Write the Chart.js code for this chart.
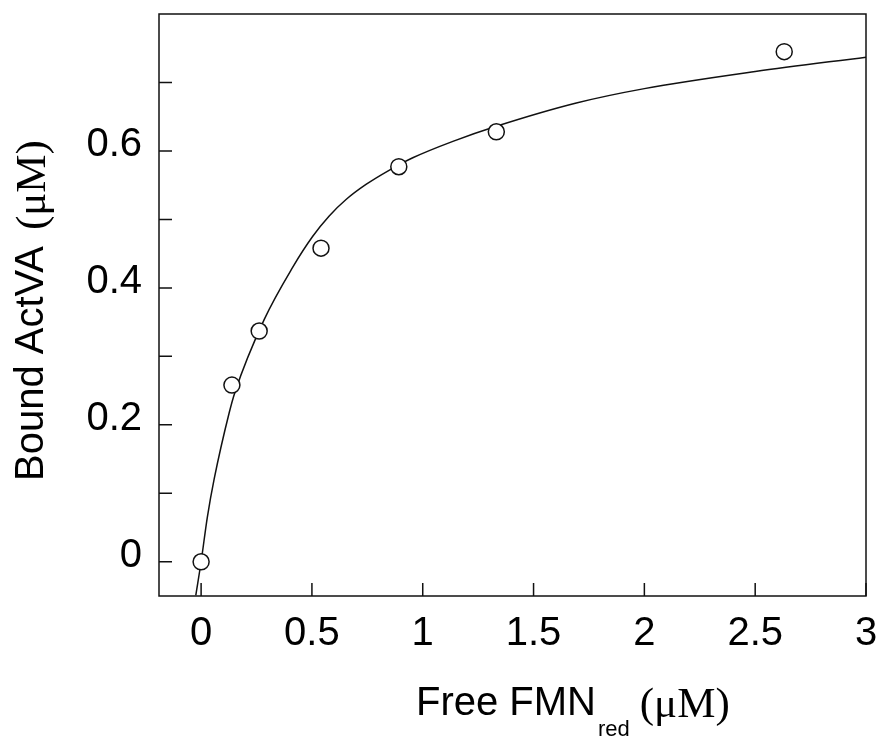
<!DOCTYPE html>
<html>
<head>
<meta charset="utf-8">
<script src="https://cdn.jsdelivr.net/npm/chart.js@4.4.1/dist/chart.umd.min.js"></script>
<style>
  html, body { margin: 0; padding: 0; background: #fff; }
  #wrap { width: 880px; height: 738px; position: relative; }
</style>
</head>
<body>
<div id="wrap"><canvas id="bindChart"></canvas></div>
<script>
// measured points
const freeFmn = [0, 0.139, 0.262, 0.541, 0.892, 1.332, 2.631];
const boundActVA = [0, 0.258, 0.337, 0.458, 0.577, 0.628, 0.745];

// fitted curve
const fitX = [-0.024, 0, 0.028, 0.059, 0.127, 0.152, 0.285, 0.413, 0.503, 0.578, 0.654, 0.744, 0.850, 0.955, 1.136, 1.332, 1.693, 2.0, 2.5, 3.0];
const fitY = [-0.049, 0, 0.065, 0.121, 0.218, 0.247, 0.354, 0.430, 0.475, 0.505, 0.529, 0.551, 0.572, 0.590, 0.614, 0.636, 0.670, 0.691, 0.716, 0.737];

// axis ticks
const xTicks = [0, 0.5, 1, 1.5, 2, 2.5, 3];
const yTicks = [0, 0.1, 0.2, 0.3, 0.4, 0.5, 0.6, 0.7];
const yLabels = [0, 0.2, 0.4, 0.6];

const sans = "'Liberation Sans', Arial, sans-serif";
const serif = "'Liberation Serif', 'Times New Roman', serif";

// frame, inward ticks and axis titles
const framePlugin = {
  id: 'frame',
  afterDraw(chart) {
    const ctx = chart.ctx;
    const a = chart.chartArea;
    const xs = chart.scales.x, ys = chart.scales.y;
    ctx.save();
    ctx.strokeStyle = '#111';
    ctx.lineWidth = 1.5;
    ctx.strokeRect(a.left, a.top, a.right - a.left, a.bottom - a.top);
    ctx.beginPath();
    xTicks.forEach(v => {
      const px = xs.getPixelForValue(v);
      ctx.moveTo(px, a.bottom);
      ctx.lineTo(px, a.bottom - 13);
    });
    yTicks.forEach(v => {
      const py = ys.getPixelForValue(v);
      ctx.moveTo(a.left, py);
      ctx.lineTo(a.left + 13, py);
    });
    ctx.stroke();

    ctx.fillStyle = '#000';
    ctx.textBaseline = 'alphabetic';
    ctx.textAlign = 'left';
    // x title
    let x = 416;
    ctx.font = '40px ' + sans;
    ctx.fillText('Free FMN', x, 715);
    x += ctx.measureText('Free FMN').width + 2;
    ctx.font = '22px ' + sans;
    ctx.fillText('red', x, 736);
    x += ctx.measureText('red').width + 10;
    ctx.font = '43px ' + serif;
    ctx.fillText('(\u03bcM)', x, 717);

    // y title
    ctx.translate(43, 481);
    ctx.rotate(-Math.PI / 2);
    ctx.font = '40px ' + sans;
    ctx.fillText('Bound ActVA', 0, 0);
    const w = ctx.measureText('Bound ActVA').width + 16;
    ctx.font = '43px ' + serif;
    ctx.fillText('(\u03bcM)', w, 2);
    ctx.restore();
  }
};

const ctx = document.getElementById('bindChart').getContext('2d');
new Chart(ctx, {
  type: 'scatter',
  data: {
    datasets: [{
      label: 'data',
      data: freeFmn.map((v, i) => ({x: v, y: boundActVA[i]})),
      pointRadius: 8,
      pointHoverRadius: 8,
      pointBackgroundColor: '#fff',
      pointBorderColor: '#111',
      pointBorderWidth: 1.5
    }, {
      label: 'fit',
      data: fitX.map((v, i) => ({x: v, y: fitY[i]})),
      showLine: true,
      pointRadius: 0,
      borderColor: '#111',
      borderWidth: 1.5,
      cubicInterpolationMode: 'monotone'
    }]
  },
  options: {
    responsive: true,
    maintainAspectRatio: false,
    animation: false,
    layout: { padding: { left: 0, top: 14, right: 14, bottom: 0 } },
    plugins: { legend: { display: false }, tooltip: { enabled: false } },
    scales: {
      x: {
        type: 'linear',
        min: -0.19,
        max: 3,
        grid: { display: false, drawTicks: false },
        border: { display: false },
        afterBuildTicks: s => { s.ticks = xTicks.map(v => ({value: v})); },
        afterFit: s => { s.height = 142; s.paddingLeft = 0; s.paddingRight = 0; },
        ticks: {
          padding: 14,
          color: '#000',
          font: { family: sans, size: 40 },
          maxRotation: 0,
          autoSkip: false,
          callback: v => String(v)
        }
      },
      y: {
        type: 'linear',
        min: -0.05,
        max: 0.8,
        grid: { display: false, drawTicks: false },
        border: { display: false },
        afterBuildTicks: s => { s.ticks = yTicks.map(v => ({value: v})); },
        afterFit: s => { s.width = 159; s.paddingTop = 0; s.paddingBottom = 0; },
        ticks: {
          padding: 17,
          labelOffset: -6,
          color: '#000',
          font: { family: sans, size: 40 },
          autoSkip: false,
          callback: v => yLabels.some(l => Math.abs(l - v) < 1e-9) ? String(Math.round(v * 10) / 10) : ''
        }
      }
    }
  },
  plugins: [framePlugin]
});
</script>
</body>
</html>
